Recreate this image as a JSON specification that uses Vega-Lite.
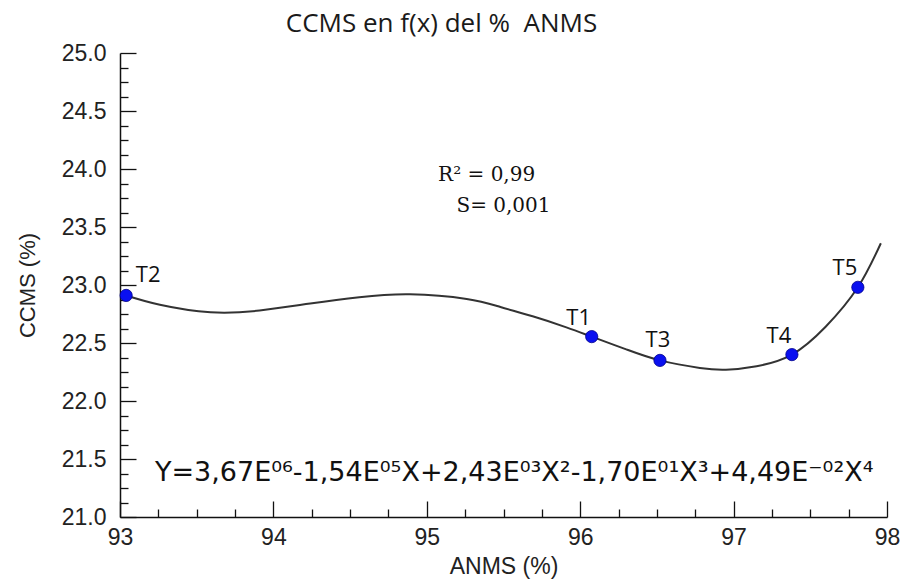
{
  "$schema": "https://vega.github.io/schema/vega-lite/v6.json",
  "autosize": {"type": "none"},
  "width": 767,
  "height": 464,
  "padding": {"left": 120, "top": 53, "right": 13, "bottom": 63},
  "background": "white",
  "config": {"view": {"stroke": null}},
  "title": {
    "text": "CCMS en f(x) del % \u00a0ANMS",
    "font": "Open Sans",
    "fontSize": 26,
    "fontWeight": "normal",
    "color": "#1a1a1a",
    "anchor": "middle",
    "dx": -62,
    "offset": 5
  },
  "datasets": {
    "curve": [
      {"anms": 93.04, "ccms": 22.91},
      {"anms": 93.26, "ccms": 22.83},
      {"anms": 93.59, "ccms": 22.765},
      {"anms": 93.91, "ccms": 22.78},
      {"anms": 94.24, "ccms": 22.84},
      {"anms": 94.56, "ccms": 22.895},
      {"anms": 94.89, "ccms": 22.92},
      {"anms": 95.26, "ccms": 22.88},
      {"anms": 95.48, "ccms": 22.81},
      {"anms": 95.69, "ccms": 22.73},
      {"anms": 95.91, "ccms": 22.635},
      {"anms": 96.075, "ccms": 22.555},
      {"anms": 96.3, "ccms": 22.445},
      {"anms": 96.52, "ccms": 22.35},
      {"anms": 96.78, "ccms": 22.285},
      {"anms": 96.95, "ccms": 22.27},
      {"anms": 97.15, "ccms": 22.3},
      {"anms": 97.38, "ccms": 22.4},
      {"anms": 97.6, "ccms": 22.64},
      {"anms": 97.81, "ccms": 22.98},
      {"anms": 97.96, "ccms": 23.36}
    ],
    "points": [
      {"label": "T2", "anms": 93.04, "ccms": 22.91},
      {"label": "T1", "anms": 96.075, "ccms": 22.555},
      {"label": "T3", "anms": 96.52, "ccms": 22.35},
      {"label": "T4", "anms": 97.38, "ccms": 22.40},
      {"label": "T5", "anms": 97.81, "ccms": 22.98}
    ],
    "stats": [
      {"anms": 95.39, "ccms": 23.90, "text": "R² = 0,99"},
      {"anms": 95.50, "ccms": 23.63, "text": "S= 0,001"}
    ],
    "equation": [
      {"anms": 95.57, "ccms": 21.31, "text": "Y=3,67E⁰⁶-1,54E⁰⁵X+2,43E⁰³X²-1,70E⁰¹X³+4,49E⁻⁰²X⁴"}
    ]
  },
  "encoding": {
    "x": {
      "field": "anms",
      "type": "quantitative",
      "scale": {"domain": [93, 98], "nice": false, "zero": false},
      "axis": {
        "title": "ANMS (%)",
        "titleFont": "Liberation Sans",
        "titleFontSize": 23,
        "titleFontWeight": "normal",
        "titleColor": "#222222",
        "titleBaseline": "alphabetic",
        "titleY": 56,
        "values": [93, 93.25, 93.5, 93.75, 94, 94.25, 94.5, 94.75, 95, 95.25, 95.5, 95.75, 96, 96.25, 96.5, 96.75, 97, 97.25, 97.5, 97.75, 98],
        "labelExpr": "datum.value % 1 === 0 ? format(datum.value, 'd') : ''",
        "labelFont": "Liberation Sans",
        "labelFontSize": 23,
        "labelColor": "#222222",
        "labelPadding": 25,
        "labelFlush": false,
        "labelOverlap": false,
        "grid": false,
        "domainColor": "#111111",
        "domainWidth": 1.5,
        "tickColor": "#111111",
        "tickWidth": 1.3,
        "tickSize": {"condition": {"test": "datum.value % 1 === 0", "value": -16}, "value": -8}
      }
    },
    "y": {
      "field": "ccms",
      "type": "quantitative",
      "scale": {"domain": [21, 25], "nice": false, "zero": false},
      "axis": {
        "title": "CCMS (%)",
        "titleFont": "Liberation Sans",
        "titleFontSize": 22,
        "titleFontWeight": "normal",
        "titleColor": "#222222",
        "titleBaseline": "alphabetic",
        "titleX": -86,
        "values": [21, 21.125, 21.25, 21.375, 21.5, 21.625, 21.75, 21.875, 22, 22.125, 22.25, 22.375, 22.5, 22.625, 22.75, 22.875, 23, 23.125, 23.25, 23.375, 23.5, 23.625, 23.75, 23.875, 24, 24.125, 24.25, 24.375, 24.5, 24.625, 24.75, 24.875, 25],
        "labelExpr": "(datum.value * 2) % 1 === 0 ? format(datum.value, '.1f') : ''",
        "labelFont": "Liberation Sans",
        "labelFontSize": 23,
        "labelColor": "#222222",
        "labelPadding": 30,
        "labelFlush": false,
        "labelOverlap": false,
        "grid": false,
        "domainColor": "#111111",
        "domainWidth": 1.5,
        "tickColor": "#111111",
        "tickWidth": 1.3,
        "tickSize": {"condition": {"test": "(datum.value * 2) % 1 === 0", "value": -16}, "value": -8}
      }
    }
  },
  "layer": [
    {
      "data": {"name": "curve"},
      "mark": {"type": "line", "interpolate": "natural", "color": "#333333", "strokeWidth": 2}
    },
    {
      "data": {"name": "points"},
      "mark": {"type": "point", "shape": "circle", "filled": true, "size": 150, "color": "#0a10f0", "stroke": "#00008b", "strokeWidth": 0.8, "opacity": 1}
    },
    {
      "data": {"name": "points"},
      "transform": [{"filter": "datum.label === 'T1' || datum.label === 'T4' || datum.label === 'T5'"}],
      "mark": {"type": "text", "font": "Open Sans", "fontSize": 22, "color": "#111111", "align": "center", "baseline": "alphabetic", "dx": -13, "dy": -12},
      "encoding": {"text": {"field": "label"}}
    },
    {
      "data": {"name": "points"},
      "transform": [{"filter": "datum.label === 'T3'"}],
      "mark": {"type": "text", "font": "Open Sans", "fontSize": 22, "color": "#111111", "align": "center", "baseline": "alphabetic", "dx": -2, "dy": -13},
      "encoding": {"text": {"field": "label"}}
    },
    {
      "data": {"name": "points"},
      "transform": [{"filter": "datum.label === 'T2'"}],
      "mark": {"type": "text", "font": "Open Sans", "fontSize": 22, "color": "#111111", "align": "center", "baseline": "alphabetic", "dx": 22, "dy": -13},
      "encoding": {"text": {"field": "label"}}
    },
    {
      "data": {"name": "stats"},
      "mark": {"type": "text", "font": "DejaVu Serif", "fontSize": 20, "color": "#111111", "align": "center", "baseline": "alphabetic"},
      "encoding": {"text": {"field": "text"}}
    },
    {
      "data": {"name": "equation"},
      "mark": {"type": "text", "font": "DejaVu Sans", "fontSize": 27, "color": "#111111", "align": "center", "baseline": "alphabetic"},
      "encoding": {"text": {"field": "text"}}
    }
  ]
}
